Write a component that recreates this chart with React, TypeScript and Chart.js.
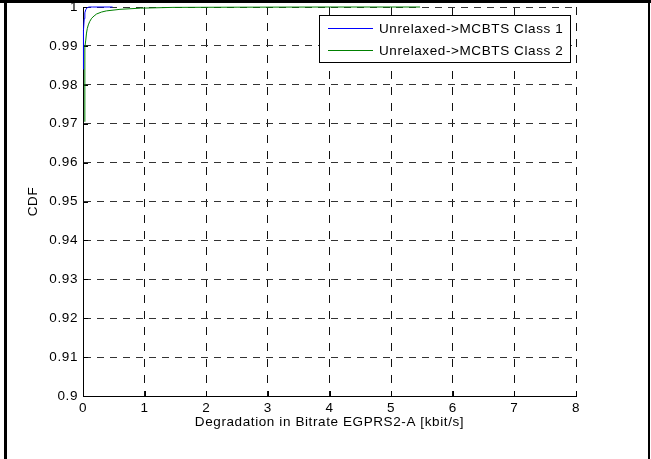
import React, { useEffect, useRef } from 'react';
import { Chart, registerables } from 'chart.js';

Chart.register(...registerables);

// ---- data ----
const xTicks = [0, 1, 2, 3, 4, 5, 6, 7, 8];
const xTickLabels = ['0', '1', '2', '3', '4', '5', '6', '7', '8'];
const yTicks = [0.9, 0.91, 0.92, 0.93, 0.94, 0.95, 0.96, 0.97, 0.98, 0.99, 1.0];
const yTickLabels = ['0.9', '0.91', '0.92', '0.93', '0.94', '0.95', '0.96', '0.97', '0.98', '0.99', '1'];
const seriesLabels = ['Unrelaxed->MCBTS Class 1', 'Unrelaxed->MCBTS Class 2'];
const xTitle = 'Degradation in Bitrate EGPRS2-A [kbit/s]';
const yTitle = 'CDF';

const class1X = [0.0, 0.005, 0.01, 0.02, 0.03, 0.045, 0.06, 0.08, 0.1, 0.15, 0.48];
const class1Y = [0.984, 0.9907, 0.994, 0.997, 0.9985, 0.9993, 0.9997, 0.9999, 1.0, 1.0, 1.0];

const class2X = [0.03, 0.03, 0.045, 0.057, 0.07, 0.086, 0.11, 0.14, 0.18, 0.22, 0.3, 0.38, 0.6, 0.93, 1.46, 2.5, 4.0, 5.47];
const class2Y = [0.9705, 0.9897, 0.9915, 0.9933, 0.9945, 0.9954, 0.9963, 0.9971, 0.9977, 0.9982, 0.9987, 0.999, 0.9994, 0.9997, 0.9999, 0.99995, 1.0, 1.0];

const seriesColors = ['#0000ff', '#008000'];

const FONT_FAMILY = "'Liberation Sans', Arial, Helvetica, sans-serif";
const FONT_SIZE = 13.5;
const LETTER_SPACING = '0.6px';

const framePlugin = {
  id: 'frame',
  beforeDraw(chart: any) {
    const ctx = chart.ctx;
    ctx.save();
    ctx.fillStyle = '#ffffff';
    ctx.fillRect(0, 0, chart.width, chart.height);
    ctx.restore();
    (ctx as any).letterSpacing = LETTER_SPACING;
  },
  beforeDatasetsDraw(chart: any) {
    const ctx = chart.ctx;
    const { left, bottom } = chart.chartArea;
    const xs = chart.scales.x;
    const ys = chart.scales.y;
    ctx.save();
    ctx.strokeStyle = '#000';
    ctx.lineWidth = 1;
    ctx.setLineDash([]);
    ctx.beginPath();
    for (const v of yTicks) {
      const py = Math.round(ys.getPixelForValue(v)) + 0.5;
      ctx.moveTo(left, py);
      ctx.lineTo(left + 5, py);
    }
    for (const v of xTicks) {
      const px = Math.round(xs.getPixelForValue(v)) + 0.5;
      ctx.moveTo(px, bottom);
      ctx.lineTo(px, bottom - 5);
    }
    ctx.stroke();
    ctx.restore();
  },
  afterDraw(chart: any) {
    const ctx = chart.ctx;
    ctx.save();
    // legend box
    const bx = 319.5, by = 15.5, bw = 251, bh = 47;
    ctx.fillStyle = '#ffffff';
    ctx.fillRect(bx, by, bw, bh);
    ctx.strokeStyle = '#000';
    ctx.lineWidth = 1;
    ctx.setLineDash([]);
    ctx.strokeRect(bx, by, bw, bh);
    const rows = [28.5, 50.5];
    ctx.font = `${FONT_SIZE}px ${FONT_FAMILY}`;
    (ctx as any).letterSpacing = LETTER_SPACING;
    ctx.textBaseline = 'middle';
    ctx.textAlign = 'left';
    chart.data.datasets.forEach((ds: any, i: number) => {
      ctx.strokeStyle = ds.borderColor;
      ctx.beginPath();
      ctx.moveTo(328, rows[i]);
      ctx.lineTo(373, rows[i]);
      ctx.stroke();
      ctx.fillStyle = '#000';
      ctx.fillText(ds.label, 379, rows[i] + 0.5);
    });
    // outer frame
    ctx.fillStyle = '#000';
    ctx.fillRect(0, 0, chart.width, 3);
    ctx.fillRect(4, 0, 3, chart.height);
    ctx.fillRect(648, 0, 2, chart.height);
    ctx.restore();
  },
};

export default function App() {
  const canvasRef = useRef<HTMLCanvasElement | null>(null);

  useEffect(() => {
    if (!canvasRef.current) return;
    const zeroPad = (s: any) => {
      s.paddingLeft = 0;
      s.paddingRight = 0;
      s.paddingTop = 0;
      s.paddingBottom = 0;
    };
    const chart = new Chart(canvasRef.current, {
      type: 'line',
      data: {
        datasets: [
          {
            label: seriesLabels[0],
            data: class1X.map((x, i) => ({ x, y: class1Y[i] })),
            borderColor: seriesColors[0],
            backgroundColor: seriesColors[0],
            borderWidth: 1,
            pointRadius: 0,
            tension: 0,
            fill: false,
            clip: 4,
            order: 1,
          },
          {
            label: seriesLabels[1],
            data: class2X.map((x, i) => ({ x, y: class2Y[i] })),
            borderColor: seriesColors[1],
            backgroundColor: seriesColors[1],
            borderWidth: 1,
            pointRadius: 0,
            tension: 0,
            fill: false,
            clip: 4,
            order: 0,
          },
        ],
      } as any,
      options: {
        responsive: false,
        animation: false,
        devicePixelRatio: 1,
        events: [],
        layout: { padding: { left: 0, top: 7, right: 75, bottom: 0 } },
        font: { family: FONT_FAMILY, size: FONT_SIZE },
        plugins: {
          legend: { display: false },
          tooltip: { enabled: false },
        },
        scales: {
          x: {
            type: 'linear',
            min: 0,
            max: 8,
            afterBuildTicks: (s: any) => {
              s.ticks = xTicks.map((v) => ({ value: v }));
            },
            afterFit: (s: any) => {
              s.height = 63;
              zeroPad(s);
            },
            ticks: {
              callback: (_v: any, i: number) => xTickLabels[i],
              padding: 4,
              color: '#000',
              font: { family: FONT_FAMILY, size: FONT_SIZE },
              maxRotation: 0,
              autoSkip: false,
            },
            grid: { color: '#111', lineWidth: 1, drawTicks: false },
            border: { display: true, color: '#000', width: 1, dash: [8, 8] },
            title: {
              display: true,
              text: xTitle,
              color: '#000',
              font: { family: FONT_FAMILY, size: FONT_SIZE },
              padding: { top: 0, bottom: 29 },
            },
          },
          y: {
            type: 'linear',
            min: 0.9,
            max: 1.0,
            afterBuildTicks: (s: any) => {
              s.ticks = yTicks.map((v) => ({ value: v }));
            },
            afterFit: (s: any) => {
              s.width = 83;
              zeroPad(s);
            },
            ticks: {
              callback: (_v: any, i: number) => yTickLabels[i],
              padding: 5,
              color: '#000',
              font: { family: FONT_FAMILY, size: FONT_SIZE },
              autoSkip: false,
            },
            grid: { color: '#333', lineWidth: 1, drawTicks: false },
            border: { display: true, color: '#000', width: 1, dash: [7, 6] },
            title: {
              display: true,
              text: yTitle,
              color: '#000',
              font: { family: FONT_FAMILY, size: FONT_SIZE },
              padding: { top: 25, bottom: 0 },
            },
          },
        },
      } as any,
      plugins: [framePlugin],
    });
    return () => chart.destroy();
  }, []);

  return (
    <div style={{ position: 'absolute', left: 0, top: 0, width: 651, height: 459, background: '#fff' }}>
      <canvas ref={canvasRef} width={651} height={459} style={{ display: 'block' }} />
    </div>
  );
}
